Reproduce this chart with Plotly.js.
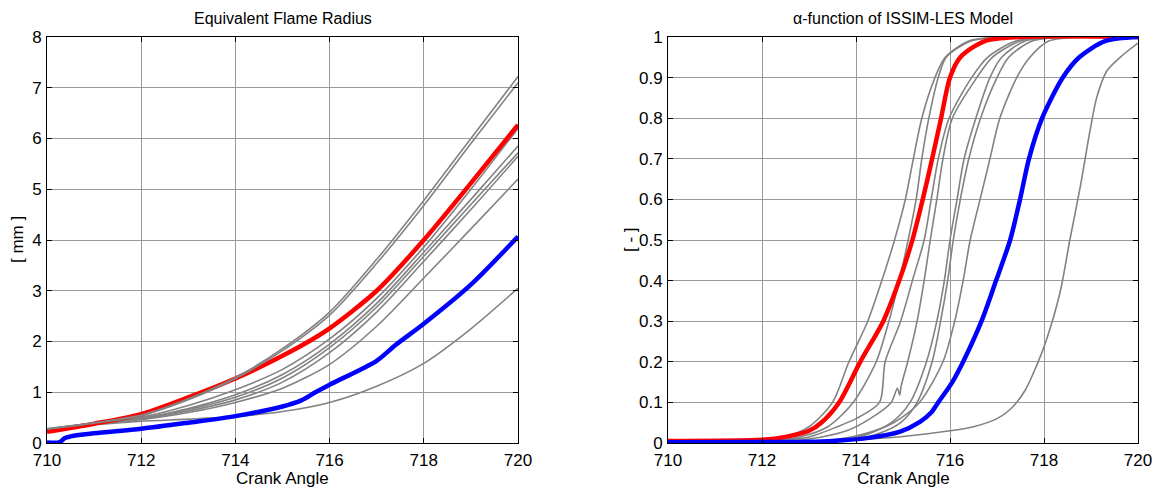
<!DOCTYPE html>
<html>
<head>
<meta charset="utf-8">
<script src="https://cdn.plot.ly/plotly-3.0.1.min.js"></script>
<style>html,body{margin:0;padding:0;background:#fff;}#chart{width:1157px;height:491px;}</style>
</head>
<body>
<div id="chart"></div>
<script>
// ---------- Left panel: Equivalent Flame Radius [mm] ----------
const radiusX = [710, 711, 712, 713, 714, 715, 716, 717, 718, 719, 720];
const radiusGray1 = [0.28, 0.40, 0.55, 0.87, 1.29, 1.86, 2.58, 3.62, 4.78, 6.00, 7.22];
const radiusGray2 = [0.27, 0.39, 0.54, 0.85, 1.27, 1.82, 2.52, 3.54, 4.68, 5.90, 7.10];
const radiusGray3 = [0.28, 0.40, 0.51, 0.74, 1.05, 1.45, 2.05, 2.85, 3.86, 5.00, 6.20];
const radiusGray4 = [0.27, 0.39, 0.49, 0.68, 0.95, 1.35, 1.95, 2.75, 3.76, 4.80, 5.85];
const radiusGray5 = [0.27, 0.38, 0.48, 0.66, 0.90, 1.28, 1.88, 2.68, 3.68, 4.70, 5.72];
const radiusGray6 = [0.26, 0.37, 0.47, 0.63, 0.85, 1.20, 1.78, 2.58, 3.58, 4.60, 5.65];
const radiusGray7 = [0.26, 0.37, 0.46, 0.60, 0.80, 1.08, 1.55, 2.30, 3.25, 4.22, 5.20];
const radiusGray8 = [0.27, 0.36, 0.43, 0.47, 0.52, 0.62, 0.80, 1.12, 1.57, 2.25, 3.05];
const radiusRedX = [710, 711, 712, 713, 714, 715, 715.5, 716, 717, 718, 719, 720];
const radiusRed  = [0.22, 0.38, 0.57, 0.90, 1.27, 1.72, 1.97, 2.26, 3.00, 4.00, 5.12, 6.27];
const radiusBlueX = [710, 710.25, 710.32, 710.38, 710.5, 711, 712, 713, 714, 715, 715.4, 715.7, 716, 717, 717.4, 718, 719, 720];
const radiusBlue  = [0.01, 0.01, 0.05, 0.10, 0.13, 0.19, 0.28, 0.40, 0.53, 0.72, 0.84, 1.00, 1.15, 1.62, 1.93, 2.35, 3.12, 4.07];

// ---------- Right panel: alpha-function ----------
const alphaAX = [710, 712, 712.5, 713, 713.5, 713.85, 714.25, 714.55, 714.82, 715.05, 715.22, 715.4, 715.68, 715.9, 716.4, 717, 720];
const alphaAY = [0.002, 0.006, 0.015, 0.04, 0.1, 0.2, 0.3, 0.4, 0.5, 0.6, 0.7, 0.8, 0.9, 0.95, 0.99, 1, 1];
const alphaBX = [710, 712, 712.8, 713.4, 713.94, 714.43, 714.7, 714.92, 715.11, 715.28, 715.4, 715.55, 715.75, 715.92, 716.45, 717.2, 720];
const alphaBY = [0.002, 0.005, 0.015, 0.04, 0.1, 0.2, 0.3, 0.4, 0.5, 0.6, 0.7, 0.8, 0.9, 0.95, 0.99, 1, 1];
const alphaCX = [710, 712, 713, 713.6, 714.0, 714.5, 714.62, 714.95, 715.2, 715.45, 715.6, 715.75, 715.98, 716.46, 716.8, 717.4, 718.2, 720];
const alphaCY = [0.002, 0.004, 0.015, 0.04, 0.06, 0.1, 0.2, 0.3, 0.4, 0.5, 0.6, 0.7, 0.8, 0.9, 0.95, 0.99, 1, 1];
const alphaDX = [710, 712, 713, 713.8, 714.3, 714.75, 714.88, 714.93, 714.96, 715.1, 715.3, 715.45, 715.58, 715.72, 715.85, 716.05, 716.57, 716.9, 717.5, 718.4, 720];
const alphaDY = [0.002, 0.004, 0.01, 0.03, 0.06, 0.1, 0.135, 0.118, 0.14, 0.2, 0.3, 0.4, 0.5, 0.6, 0.7, 0.8, 0.9, 0.95, 0.99, 1, 1];
const alphaEX = [710, 712, 713.5, 714.2, 714.75, 715.15, 715.5, 715.72, 715.88, 716.0, 716.15, 716.3, 716.55, 716.85, 717.1, 717.6, 718.5, 720];
const alphaEY = [0.001, 0.002, 0.005, 0.02, 0.05, 0.1, 0.2, 0.3, 0.4, 0.5, 0.6, 0.7, 0.8, 0.9, 0.95, 0.99, 1, 1];
const alphaFX = [710, 712, 713.7, 714.4, 714.95, 715.3, 715.62, 715.8, 715.95, 716.07, 716.22, 716.4, 716.65, 717.0, 717.25, 717.75, 718.6, 720];
const alphaFY = [0.001, 0.002, 0.005, 0.02, 0.05, 0.1, 0.2, 0.3, 0.4, 0.5, 0.6, 0.7, 0.8, 0.9, 0.95, 0.99, 1, 1];
const alphaGX = [710, 712, 713.3, 714.1, 714.8, 715.35, 715.85, 716.1, 716.28, 716.43, 716.64, 716.85, 717.06, 717.42, 717.7, 718.1, 719, 720];
const alphaGY = [0.001, 0.002, 0.005, 0.02, 0.05, 0.1, 0.2, 0.3, 0.4, 0.5, 0.6, 0.7, 0.8, 0.9, 0.95, 0.99, 1, 1];
const alphaHX = [710, 712, 714, 715, 716, 716.5, 717, 717.3, 717.6, 717.84, 718.04, 718.34, 718.55, 718.77, 718.98, 719.12, 719.33, 719.62, 720];
const alphaHY = [0.0, 0.002, 0.008, 0.016, 0.03, 0.04, 0.06, 0.085, 0.13, 0.19, 0.25, 0.37, 0.5, 0.63, 0.77, 0.85, 0.915, 0.95, 0.985];
const alphaRedX = [710, 712, 712.5, 713, 713.26, 713.64, 714.09, 714.58, 714.92, 715.2, 715.42, 715.62, 715.81, 716.0, 716.22, 716.74, 717.5, 720];
const alphaRedY = [0.005, 0.008, 0.015, 0.03, 0.05, 0.1, 0.2, 0.3, 0.4, 0.5, 0.6, 0.7, 0.8, 0.9, 0.95, 0.99, 1, 1];
const alphaBlueX = [710, 713, 713.5, 714.23, 714.94, 715.36, 715.6, 715.75, 716.05, 716.28, 716.67, 716.98, 717.28, 717.49, 717.68, 717.96, 718.4, 718.75, 719.3, 720];
const alphaBlueY = [0.002, 0.003, 0.005, 0.012, 0.028, 0.052, 0.075, 0.1, 0.15, 0.2, 0.3, 0.4, 0.5, 0.6, 0.7, 0.8, 0.9, 0.95, 0.99, 1];

// ---------- Axis ticks / titles ----------
const xTicks = [710, 712, 714, 716, 718, 720];
const xTickText = ['710', '712', '714', '716', '718', '720'];
const yTicksLeft = [0, 1, 2, 3, 4, 5, 6, 7, 8];
const yTicksRight = [0, 0.1, 0.2, 0.3, 0.4, 0.5, 0.6, 0.7, 0.8, 0.9, 1];
const yTickTextRight = ['0', '0.1', '0.2', '0.3', '0.4', '0.5', '0.6', '0.7', '0.8', '0.9', '1'];
const titleLeft = 'Equivalent Flame Radius';
const titleRight = 'α-function of ISSIM-LES Model';
const xLabel = 'Crank Angle';
const yLabelLeft = '[ mm ]';
const yLabelRight = '[ - ]';

const GRAY = '#828282';
const traces = [];
function line(x, y, color, width, xa, ya) {
  traces.push({x: x, y: y, type: 'scatter', mode: 'lines', xaxis: xa, yaxis: ya,
    line: {color: color, width: width, shape: 'spline', smoothing: 0.8}, hoverinfo: 'skip'});
}
// left panel: red under the two upper gray curves (as in the reference)
[radiusGray3, radiusGray4, radiusGray5, radiusGray6, radiusGray7, radiusGray8]
  .forEach(g => line(radiusX, g, GRAY, 1.6, 'x', 'y'));
line(radiusRedX, radiusRed, '#ff0000', 4.5, 'x', 'y');
[radiusGray1, radiusGray2].forEach(g => line(radiusX, g, GRAY, 1.6, 'x', 'y'));
line(radiusBlueX, radiusBlue, '#0000ff', 4.5, 'x', 'y');

[[alphaAX, alphaAY], [alphaBX, alphaBY], [alphaCX, alphaCY], [alphaDX, alphaDY], [alphaEX, alphaEY],
 [alphaFX, alphaFY], [alphaGX, alphaGY], [alphaHX, alphaHY]]
  .forEach(p => line(p[0], p[1], GRAY, 1.6, 'x2', 'y2'));
line(alphaRedX, alphaRedY, '#ff0000', 4.5, 'x2', 'y2');
line(alphaBlueX, alphaBlueY, '#0000ff', 4.5, 'x2', 'y2');

const FONT = 'Liberation Sans, Arial, sans-serif';
const baseAxis = {
  showgrid: true, gridcolor: '#9a9a9a', gridwidth: 1, zeroline: false,
  showline: true, linecolor: '#000', linewidth: 1, mirror: 'allticks',
  ticks: 'inside', ticklen: 5, tickcolor: '#000', tickwidth: 1,
  tickfont: {family: FONT, size: 17, color: '#000'}, fixedrange: true
};
const yDom = [48 / 491, 454 / 491];
const layout = {
  width: 1157, height: 491, margin: {l: 0, r: 0, t: 0, b: 0},
  paper_bgcolor: '#fff', plot_bgcolor: '#fff', showlegend: false,
  font: {family: FONT, size: 17, color: '#000'},
  xaxis: Object.assign({}, baseAxis, {domain: [47 / 1157, 518 / 1157], range: [710, 720], tickvals: xTicks, ticktext: xTickText, anchor: 'y', ticklabelstandoff: 2}),
  yaxis: Object.assign({}, baseAxis, {domain: yDom, range: [0, 8], tickvals: yTicksLeft, anchor: 'x', ticklabelstandoff: 1}),
  xaxis2: Object.assign({}, baseAxis, {domain: [668 / 1157, 1138 / 1157], range: [710, 720], tickvals: xTicks, ticktext: xTickText, anchor: 'y2', ticklabelstandoff: 2}),
  yaxis2: Object.assign({}, baseAxis, {domain: yDom, range: [0, 1], tickvals: yTicksRight, ticktext: yTickTextRight, anchor: 'x2', ticklabelstandoff: 1}),
  annotations: [
    {text: titleLeft, xref: 'paper', yref: 'paper', x: 282.5 / 1157, y: 1 - 18 / 491, showarrow: false, font: {size: 16}, xanchor: 'center', yanchor: 'middle'},
    {text: titleRight, xref: 'paper', yref: 'paper', x: 903 / 1157, y: 1 - 18 / 491, showarrow: false, font: {size: 16}, xanchor: 'center', yanchor: 'middle'},
    {text: xLabel, xref: 'paper', yref: 'paper', x: 282.5 / 1157, y: 1 - 478 / 491, showarrow: false, font: {size: 17}, xanchor: 'center', yanchor: 'middle'},
    {text: xLabel, xref: 'paper', yref: 'paper', x: 903 / 1157, y: 1 - 478 / 491, showarrow: false, font: {size: 17}, xanchor: 'center', yanchor: 'middle'},
    {text: yLabelLeft, xref: 'paper', yref: 'paper', x: 17 / 1157, y: 1 - 240 / 491, showarrow: false, textangle: -90, font: {size: 17}, xanchor: 'center', yanchor: 'middle'},
    {text: yLabelRight, xref: 'paper', yref: 'paper', x: 630 / 1157, y: 1 - 240 / 491, showarrow: false, textangle: -90, font: {size: 17}, xanchor: 'center', yanchor: 'middle'}
  ]
};
Plotly.newPlot('chart', traces, layout, {staticPlot: true, displayModeBar: false});
</script>
</body>
</html>
